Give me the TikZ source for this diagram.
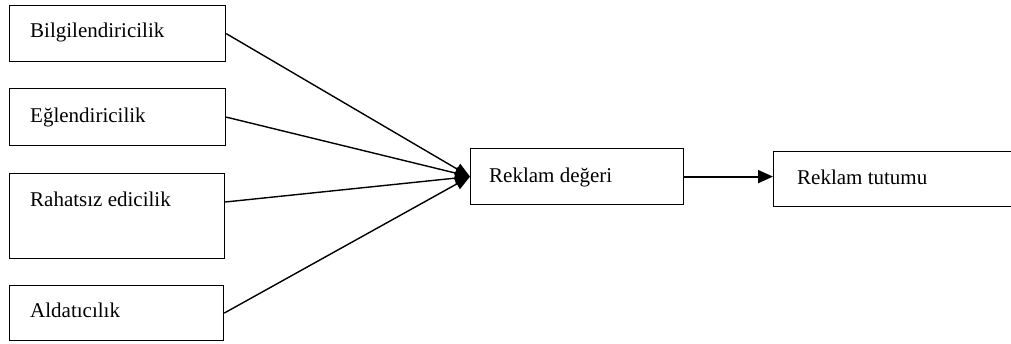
\documentclass[tikz,border=0pt]{standalone}
\usepackage{fontspec}
\setmainfont{Liberation Serif}
\usetikzlibrary{arrows.meta}
\begin{document}
\begin{tikzpicture}[x=1pt,y=-1pt,
 box/.style={draw, line width=1.2pt, rectangle, inner sep=0pt, anchor=north west},
 lbl/.style={anchor=base west, inner sep=0pt, font=\fontsize{21}{25}\selectfont},
 conn/.style={line width=1.4pt, -{Triangle[length=15pt,width=12pt]}},
 mainconn/.style={line width=1.9pt, -{Triangle[length=15pt,width=13pt]}}]
\useasboundingbox (0,0) rectangle (1011,343);
\clip (0,0) rectangle (1011,343);
\node[box, minimum width=216pt, minimum height=56pt] (b1) at (9,5) {};
\node[box, minimum width=216pt, minimum height=57pt] (b2) at (9,88) {};
\node[box, minimum width=215pt, minimum height=85pt] (b3) at (9,173) {};
\node[box, minimum width=214pt, minimum height=55pt] (b4) at (9,285) {};
\node[box, minimum width=213pt, minimum height=56pt] (rv) at (470,148) {};
\node[box, minimum width=260pt, minimum height=55pt] (rt) at (773,151) {};
\node[lbl] (t1) at (30,37) {Bilgilendiricilik};
\node[lbl] (t2) at (30,122) {Eğlendiricilik};
\node[lbl] (t3) at (30,206) {Rahatsız edicilik};
\node[lbl] (t4) at (30,317) {Aldatıcılık};
\node[lbl] (t5) at (489,182) {Reklam değeri};
\node[lbl] (t6) at (797,184) {Reklam tutumu};
\draw[conn] (b1.east) -- (rv.west);
\draw[conn] (b2.east) -- (rv.west);
\draw[conn] ([yshift=-29pt]b3.north east) -- (rv.west);
\draw[conn] (b4.east) -- (rv.west);
\draw[mainconn] (rv.east) -- (rv.east -| rt.west);
\end{tikzpicture}
\end{document}
